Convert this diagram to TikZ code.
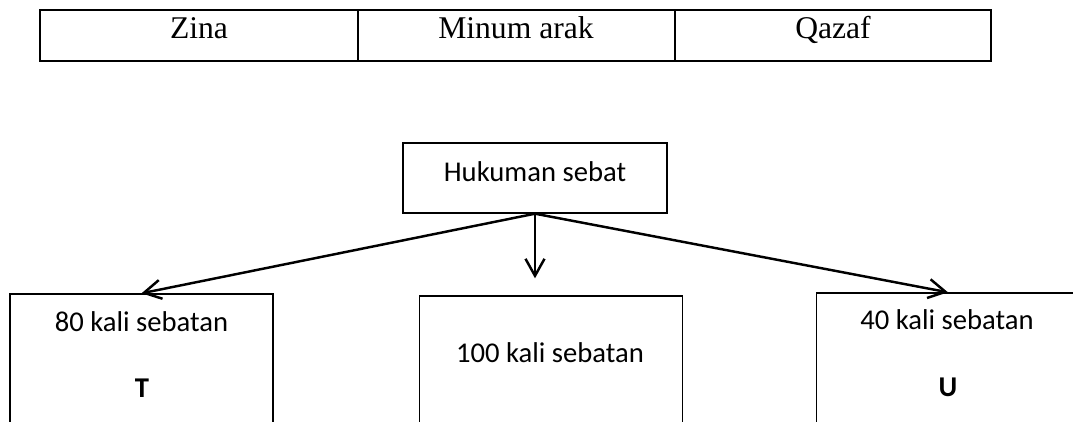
\documentclass[tikz,border=0pt]{standalone}
\usepackage{fontspec}
\setmainfont{Liberation Serif}
\newfontfamily\calibri{Carlito}
\usetikzlibrary{arrows.meta}

\tikzset{
  cell/.style={anchor=base, font=\fontsize{18}{20}\selectfont},
  box/.style={draw, line width=0.8pt, inner sep=0pt, minimum width=5.26cm, minimum height=3cm},
  boxtext/.style={anchor=base, font=\calibri\fontsize{16.3}{19}\selectfont},
  link/.style={line width=1.4pt, -{Straight Barb[length=3.4mm,width=3.8mm]}}
}

\begin{document}
\begin{tikzpicture}[x=0.02cm,y=-0.02cm]
			\useasboundingbox (0,0) rectangle (1073,422);
			\clip (0,0) rectangle (1073,422);
			
			%%%%% TABLE %%%%%
			\draw[line width=1.5pt] (40,10) rectangle (991,61);
			\draw[line width=0.9pt] (358,10) -- (358,61);
			\draw[line width=0.9pt] (675,10) -- (675,61);
			\node[cell] (zina) at (199,39) {Zina};
			\node[cell] (arak) at (516,39) {Minum arak};
			\node[cell] (qazaf) at (833,39) {Qazaf};
			
			%%%%% BOXES %%%%%
			\node[box, minimum width=5.28cm, minimum height=1.4cm] (hukuman) at (535,178) {};
			\node[boxtext] (hukumantext) at (535,182) {Hukuman sebat};
			
			\node[box] (tbox) at (141.5,369) {};
			\node[boxtext] (tnum) at (141.5,332) {80 kali sebatan};
			\node[boxtext] (tlabel) at (142,398) {\bfseries T};
			
			\node[box] (midbox) at (551,371) {};
			\node[boxtext] (midnum) at (550,363) {100 kali sebatan};
			
			\node[box] (ubox) at (948,368) {};
			\node[boxtext] (unum) at (947,330) {40 kali sebatan};
			\node[boxtext] (ulabel) at (948,397) {\bfseries U};
			
			%%%%% ARROWS %%%%%
			\draw[link] (hukuman.south) -- (tbox.north);
			\draw[link, shorten >=0.34cm] (hukuman.south) -- (hukuman.south |- midbox.north);
			\draw[link] (hukuman.south) -- (ubox.north);
\end{tikzpicture}
\end{document}
